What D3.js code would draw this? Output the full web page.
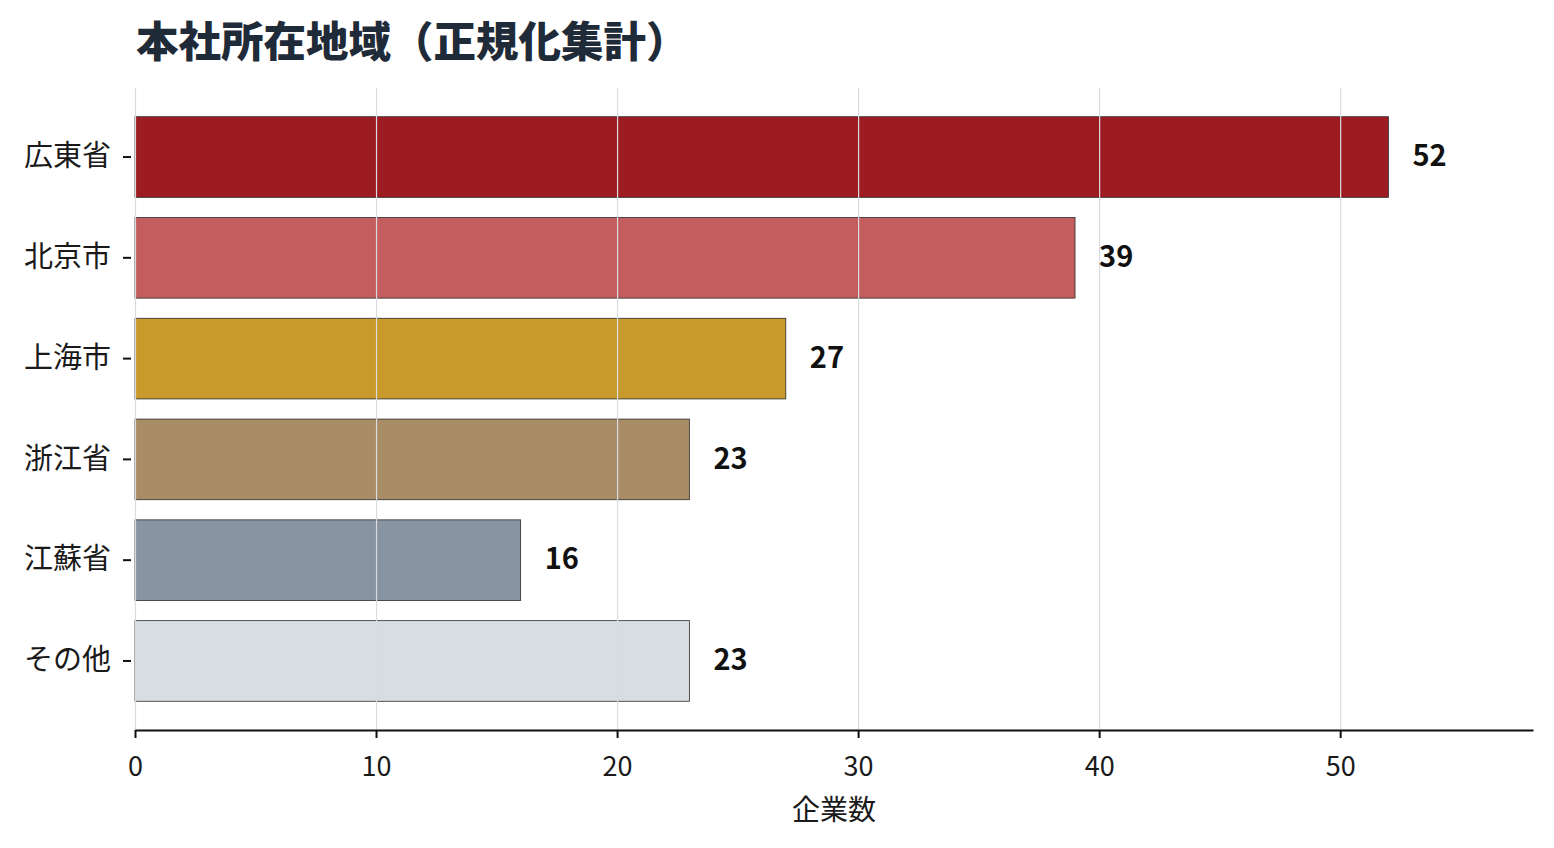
<!DOCTYPE html>
<html lang="ja">
<head>
<meta charset="utf-8">
<script src="https://cdn.jsdelivr.net/npm/d3@7"></script>
<style>
  html, body { margin: 0; padding: 0; background: #fff; }
  svg { display: block; font-family: "Noto Sans CJK JP", "Noto Sans", sans-serif; }
</style>
</head>
<body>
<svg id="chart" width="1554" height="848"></svg>
<script>
const regions = ["広東省", "北京市", "上海市", "浙江省", "江蘇省", "その他"];
const counts = [52, 39, 27, 23, 16, 23];
const barColors = ["#9d1c22", "#c45e5e", "#c89a2b", "#a88d66", "#8894a1", "#d7dde3"];
const xTicks = [0, 10, 20, 30, 40, 50];

const width = 1554;
const height = 848;
const margin = { top: 88, right: 21, bottom: 118, left: 135 };

const svg = d3.select("#chart");

const x = d3.scaleLinear()
  .domain([0, 58])
  .range([margin.left, width - margin.right]);

const y = d3.scaleBand()
  .domain(regions)
  .range([margin.top, height - margin.bottom])
  .paddingInner(0.2)
  .paddingOuter(0.285);

const rows = regions.map((r, i) => ({ region: r, count: counts[i], color: barColors[i] }));

// bars
svg.append("g")
  .selectAll("rect")
  .data(rows)
  .join("rect")
  .attr("x", x(0))
  .attr("y", (d) => y(d.region))
  .attr("width", (d) => x(d.count) - x(0))
  .attr("height", y.bandwidth())
  .attr("fill", (d) => d.color)
  .attr("stroke", "#2b2b2b")
  .attr("stroke-width", 0.8);

// vertical grid on top of bars
svg.append("g")
  .attr("transform", `translate(0,${height - margin.bottom})`)
  .call(d3.axisBottom(x).tickValues(xTicks).tickSize(-(height - margin.bottom - margin.top)).tickFormat(""))
  .call((sel) => sel.select(".domain").remove())
  .call((sel) => sel.selectAll("line").attr("stroke", "#d9dbe0").attr("stroke-width", 1.2));

// value labels
svg.append("g")
  .selectAll("text")
  .data(rows)
  .join("text")
  .attr("x", (d) => x(d.count) + 24)
  .attr("y", (d) => y(d.region) + y.bandwidth() / 2)
  .attr("dy", "0.32em")
  .attr("font-size", 29)
  .attr("font-weight", 700)
  .attr("fill", "#111")
  .text((d) => d.count);

// x axis
svg.append("g")
  .attr("transform", `translate(0,${height - margin.bottom})`)
  .call(d3.axisBottom(x).tickValues(xTicks).tickSize(8).tickSizeOuter(0).tickPadding(19))
  .call((sel) => sel.select(".domain").attr("stroke", "#111").attr("stroke-width", 2))
  .call((sel) => sel.selectAll(".tick line").attr("stroke", "#111").attr("stroke-width", 2))
  .call((sel) => sel.selectAll("text").attr("font-size", 27).attr("fill", "#1a1a1a").attr("font-family", "'Noto Sans CJK JP', sans-serif"));

// y axis
svg.append("g")
  .attr("transform", `translate(${margin.left - 4},0)`)
  .call(d3.axisLeft(y).tickSize(8).tickPadding(12))
  .call((sel) => sel.select(".domain").remove())
  .call((sel) => sel.selectAll(".tick line").attr("stroke", "#111").attr("stroke-width", 2))
  .call((sel) => sel.selectAll("text").attr("font-size", 29).attr("fill", "#1a1a1a").attr("font-family", "'Noto Sans CJK JP', sans-serif"));

// x axis title
svg.append("text")
  .attr("x", (margin.left + width - margin.right) / 2)
  .attr("y", 820)
  .attr("text-anchor", "middle")
  .attr("font-size", 28)
  .attr("fill", "#1a1a1a")
  .text("企業数");

// title
svg.append("text")
  .attr("x", 136)
  .attr("y", 57)
  .attr("font-size", 42.5)
  .attr("font-weight", 900)
  .attr("fill", "#1f2b38")
  .text("本社所在地域（正規化集計）");
</script>
</body>
</html>
